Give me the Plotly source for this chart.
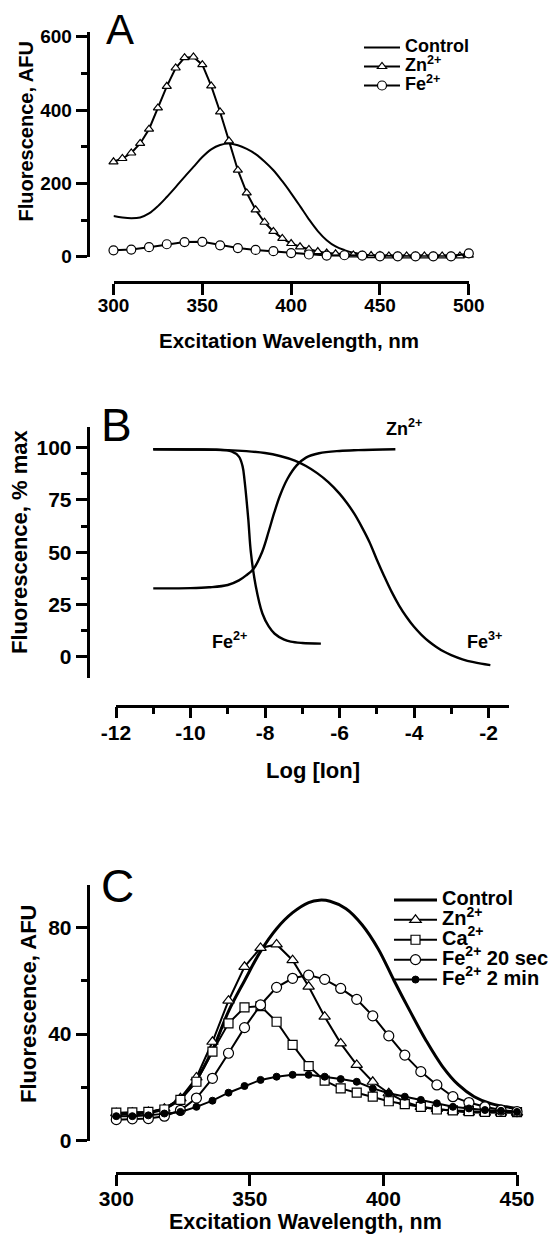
import plotly.graph_objects as go

# page has an 8px body margin: the figure is drawn 8px in from the top-left of the window
OFF = 8
W, H = 556 - OFF, 1238 - OFF
FONT = "Liberation Sans, Arial, sans-serif"

# ---------------- Panel A data ----------------
a_ctrl_x = [300, 305, 310, 315, 320, 325, 330, 335, 340, 345, 350, 355, 360, 365, 370, 375, 380, 385,
            390, 395, 400, 405, 410, 415, 420, 425, 430, 435, 440, 445, 450, 460, 470, 480, 490, 500]
a_ctrl_y = [111, 107, 105, 107, 118, 138, 163, 190, 218, 245, 272, 293, 305, 309, 304, 294, 280, 260,
            236, 206, 173, 138, 102, 70, 45, 28, 18, 11, 7, 4, 2.5, 1.5, 1, 1, 1, 1.5]
a_zn_x = [300, 305, 310, 315, 320, 325, 330, 335, 340, 345, 350, 355, 360, 365, 370, 375, 380, 385, 390, 395,
          400, 405, 410, 415, 420, 425, 430, 435, 440, 445, 450, 455, 460, 465, 470, 475, 480, 485, 490, 495, 500]
a_zn_y = [259, 268, 283, 309, 348, 406, 465, 515, 543, 545, 524, 466, 395, 316, 236, 174, 128, 94, 69, 50,
          36, 27, 20, 14, 10, 8, 6, 5, 4, 3, 3, 2, 2, 2, 2, 2, 2, 2, 2, 2, 4]
a_fe_x = [300, 310, 320, 330, 340, 350, 360, 370, 380, 390, 400, 410, 420, 430, 440, 450, 460, 470, 480, 490, 500]
a_fe_y = [17.5, 19.5, 26, 34, 40, 40.5, 31, 23.5, 18.5, 15, 10, 6, 3, 4, 3, 1, 1, 1, 1, 1, 9]
a_xticks = [300, 350, 400, 450, 500]
a_yticks = [0, 200, 400, 600]

# ---------------- Panel B data ----------------
b_fe2_x = [-11, -10, -9.3, -8.9, -8.7, -8.6, -8.55, -8.45, -8.38, -8.25, -8.07, -7.9, -7.74, -7.5, -7.31, -7.0, -6.5]
b_fe2_y = [99.2, 99.1, 99.0, 98.2, 95.7, 90.9, 84.5, 66, 50, 34, 20.7, 14.5, 11, 8.3, 7.2, 6.6, 6.3]
b_zn_x = [-11, -10, -9.5, -9, -8.7, -8.5, -8.31, -8.08, -7.9, -7.75, -7.6, -7.4, -7.15, -6.9, -6.55, -6.0, -5.5, -4.5]
b_zn_y = [32.7, 32.8, 33.2, 34.3, 36.5, 39.0, 42.0, 50, 60, 69, 77, 85, 91.5, 95.2, 97.3, 98.4, 98.8, 99.2]
b_fe3_x = [-11, -10, -9, -8.5, -8, -7.6, -7.2, -6.9, -6.6, -6.3, -6.0, -5.8, -5.6, -5.4, -5.2, -5.0,
           -4.8, -4.6, -4.4, -4.2, -4.0, -3.8, -3.6, -3.4, -3.2, -3.0, -2.7, -2.4, -2.2, -1.95]
b_fe3_y = [99.2, 99.1, 98.8, 98.3, 97.4, 96.0, 93.8, 91.2, 87.8, 83.5, 78.0, 73.5, 68.3, 62.0, 55.0, 46.5,
           38.5, 31.0, 24.5, 19.0, 14.3, 10.5, 7.3, 4.7, 2.5, 0.8, -1.2, -2.6, -3.3, -4.0]
b_xtick_vals = [-12, -10, -8, -6, -4, -2]
b_xtick_text = ["-12", "-10", "-8", "-6", "-4", "-2"]
b_yticks = [0, 25, 50, 75, 100]

# ---------------- Panel C data ----------------
c_wl = [300, 306, 312, 318, 324, 330, 336, 342, 348, 354, 360, 366, 372, 378, 384, 390, 396,
        402, 408, 414, 420, 426, 432, 438, 444, 450]
c_zn = [10.3, 10.5, 10.8, 12.0, 15.9, 23.7, 37.1, 52.5, 65.2, 72.3, 73.6, 67.7, 57.8, 46.5, 36.5, 28.4, 22.1,
        17.8, 14.6, 12.7, 11.9, 11.1, 10.6, 10.5, 10.5, 10.5]
c_ca = [10.5, 10.6, 10.8, 11.7, 15.3, 22.1, 33.4, 44.0, 50.0, 50.5, 44.6, 35.9, 28.0, 22.5, 19.6, 18.0, 16.5,
        14.8, 13.7, 12.7, 11.7, 11.4, 11.1, 10.8, 10.8, 10.7]
c_fe20 = [7.9, 8.2, 8.3, 9.2, 11.4, 16.0, 23.4, 32.8, 42.4, 50.9, 57.5, 60.9, 62.1, 60.5, 57.1, 53.0, 46.8,
          39.3, 32.1, 25.9, 20.9, 16.5, 14.3, 12.7, 11.5, 10.9]
c_fe2m = [9.2, 9.2, 9.5, 10.2, 10.8, 12.7, 15.0, 18.0, 20.5, 22.8, 24.0, 24.7, 24.7, 24.0, 23.1, 22.1, 19.6,
          17.8, 16.5, 15.3, 14.0, 12.7, 12.1, 11.5, 11.2, 10.8]
c_ctrl_x = [300, 306, 312, 318, 324, 330, 336, 342, 348, 354, 360, 366, 372, 376, 380, 386, 392, 398,
            404, 410, 416, 422, 428, 434, 440, 446, 450]
c_ctrl_y = [10, 10.1, 10.5, 12, 16, 23, 34, 48.5, 60, 71, 79.5, 85.5, 89.3, 90.2, 89.8, 87, 81, 72,
            60, 48.5, 37.5, 28, 21, 16.5, 14, 12.7, 12.1]
c_xticks = [300, 350, 400, 450]
c_yticks = [0, 40, 80]


def fx(px):
    return (px - OFF) / W


def fy(py):
    return 1 - (py - OFF) / H


def lg(text, size):
    return '<span style="font-size:%dpx">%s</span>' % (size, text)


def btext(vals):
    return ["<b>%s</b>" % v for v in vals]


fig = go.Figure()
BLK = "black"

# Panel A traces
fig.add_trace(go.Scatter(x=a_ctrl_x, y=a_ctrl_y, mode="lines", line=dict(color=BLK, width=2, shape="spline"),
                         name=lg("Control", 18), xaxis="x", yaxis="y", legend="legend"))
fig.add_trace(go.Scatter(x=a_zn_x, y=a_zn_y, mode="lines+markers", line=dict(color=BLK, width=2),
                         marker=dict(symbol="triangle-up", size=8, color="white", line=dict(color=BLK, width=1.2)),
                         name=lg("Zn<sup>2+</sup>", 18), xaxis="x", yaxis="y", legend="legend", cliponaxis=False))
fig.add_trace(go.Scatter(x=a_fe_x, y=a_fe_y, mode="lines+markers", line=dict(color=BLK, width=2),
                         marker=dict(symbol="circle", size=9, color="white", line=dict(color=BLK, width=1.2)),
                         name=lg("Fe<sup>2+</sup>", 18), xaxis="x", yaxis="y", legend="legend", cliponaxis=False))

# Panel B traces
for bx, by in [(b_fe2_x, b_fe2_y), (b_zn_x, b_zn_y), (b_fe3_x, b_fe3_y)]:
    fig.add_trace(go.Scatter(x=bx, y=by, mode="lines", line=dict(color=BLK, width=2.4, shape="spline", smoothing=1.0),
                             showlegend=False, xaxis="x2", yaxis="y2"))

# Panel C traces
fig.add_trace(go.Scatter(x=c_ctrl_x, y=c_ctrl_y, mode="lines", line=dict(color=BLK, width=3, shape="spline"),
                         name=lg("Control", 20), xaxis="x3", yaxis="y3", legend="legend2"))
fig.add_trace(go.Scatter(x=c_wl, y=c_zn, mode="lines+markers", line=dict(color=BLK, width=2),
                         marker=dict(symbol="triangle-up", size=10, color="white", line=dict(color=BLK, width=1.2)),
                         name=lg("Zn<sup>2+</sup>", 20), xaxis="x3", yaxis="y3", legend="legend2", cliponaxis=False))
fig.add_trace(go.Scatter(x=c_wl, y=c_ca, mode="lines+markers", line=dict(color=BLK, width=2),
                         marker=dict(symbol="square", size=9, color="white", line=dict(color=BLK, width=1.2)),
                         name=lg("Ca<sup>2+</sup>", 20), xaxis="x3", yaxis="y3", legend="legend2", cliponaxis=False))
fig.add_trace(go.Scatter(x=c_wl, y=c_fe20, mode="lines+markers", line=dict(color=BLK, width=2),
                         marker=dict(symbol="circle", size=10, color="white", line=dict(color=BLK, width=1.2)),
                         name=lg("Fe<sup>2+</sup> 20 sec", 20), xaxis="x3", yaxis="y3", legend="legend2", cliponaxis=False))
fig.add_trace(go.Scatter(x=c_wl, y=c_fe2m, mode="lines+markers", line=dict(color=BLK, width=2),
                         marker=dict(symbol="circle", size=7, color=BLK, line=dict(color=BLK, width=1)),
                         name=lg("Fe<sup>2+</sup> 2 min", 20), xaxis="x3", yaxis="y3", legend="legend2", cliponaxis=False))


def ax(size, **kw):
    d = dict(showline=True, linecolor=BLK, linewidth=2.6, ticks="outside", tickcolor=BLK, tickwidth=2.6,
             ticklen=11, showgrid=False, zeroline=False, anchor="free", fixedrange=True, automargin=False,
             tickfont=dict(family=FONT, size=size, color=BLK, weight="bold"))
    d.update(kw)
    return d


def minor(dt, ln):
    return dict(dtick=dt, ticklen=ln, tickwidth=2.6, tickcolor=BLK, ticks="outside", showgrid=False)


layout = dict(
    width=W, height=H, margin=dict(l=0, r=0, t=0, b=0, autoexpand=False),
    paper_bgcolor="white", plot_bgcolor="white",
    font=dict(family=FONT, color=BLK),
    # Panel A
    xaxis=ax(19, domain=[fx(113.5), fx(468.8)], range=[300, 500], position=fy(282),
             tickmode="array", tickvals=a_xticks, ticktext=btext(a_xticks), ticklabelstandoff=-6),
    yaxis=ax(19, domain=[fy(256.7), fy(31.7)], range=[0, 614], position=fx(87.5),
             tickmode="array", tickvals=a_yticks, ticktext=btext(a_yticks), minor=minor(100, 6)),
    # Panel B
    xaxis2=ax(21, domain=[fx(116), fx(509)], range=[-12, -1.45], position=fy(705.5),
              tickmode="array", tickvals=b_xtick_vals, ticktext=btext(b_xtick_text), minor=minor(1, 7),
              ticklabelstandoff=-4),
    yaxis2=ax(21, domain=[fy(678.3), fy(426.7)], range=[-10.3, 110], position=fx(87.5),
              tickmode="array", tickvals=b_yticks, ticktext=btext(b_yticks), minor=minor(12.5, 6)),
    # Panel C
    xaxis3=ax(21, domain=[fx(116.3), fx(517)], range=[300, 450], position=fy(1173),
              tickmode="array", tickvals=c_xticks, ticktext=btext(c_xticks), ticklabelstandoff=-5),
    yaxis3=ax(21, domain=[fy(1140.7), fy(884.7)], range=[0, 96], position=fx(87.5),
              tickmode="array", tickvals=c_yticks, ticktext=btext(c_yticks), minor=minor(20, 6)),
    legend=dict(x=fx(359), y=fy(33), xanchor="left", yanchor="top", bgcolor="rgba(0,0,0,0)",
                borderwidth=0, tracegroupgap=0, itemwidth=36,
                font=dict(family=FONT, size=12, color=BLK, weight="bold")),
    legend2=dict(x=fx(389), y=fy(885), xanchor="left", yanchor="top", bgcolor="rgba(0,0,0,0)",
                 borderwidth=0, tracegroupgap=0, itemwidth=43,
                 font=dict(family=FONT, size=13, color=BLK, weight="bold")),
)
fig.update_layout(**layout)


def bold(s):
    return dict(family=FONT, size=s, color=BLK, weight="bold")


annots = [
    # panel letters
    dict(text="A", x=fx(120), y=fy(29), font=dict(family=FONT, size=42, color=BLK)),
    dict(text="B", x=fx(116), y=fy(425), font=dict(family=FONT, size=46, color=BLK)),
    dict(text="C", x=fx(117), y=fy(886), font=dict(family=FONT, size=46, color=BLK)),
    # axis titles
    dict(text="Fluorescence, AFU", x=fx(25.5), y=fy(132), textangle=-90, font=bold(20)),
    dict(text="Excitation Wavelength, nm", x=fx(289), y=fy(340), font=bold(20.5)),
    dict(text="Fluorescence, % max", x=fx(20), y=fy(542), textangle=-90, font=bold(22)),
    dict(text="Log [Ion]", x=fx(312.5), y=fy(770), font=bold(22)),
    dict(text="Fluorescence, AFU", x=fx(28), y=fy(1004), textangle=-90, font=bold(22)),
    dict(text="Excitation Wavelength, nm", x=fx(305), y=fy(1222), font=bold(21.5)),
]
for a in annots:
    a.update(xref="paper", yref="paper", showarrow=False, xanchor="center", yanchor="middle")
    fig.add_annotation(**a)

# curve labels in panel B (data coordinates)
for txt, xv, yv in [("Zn<sup>2+</sup>", -4.27, 109.4), ("Fe<sup>2+</sup>", -8.94, 8), ("Fe<sup>3+</sup>", -2.1, 8)]:
    fig.add_annotation(text=txt, x=xv, y=yv, xref="x2", yref="y2", showarrow=False,
                       xanchor="center", yanchor="middle", font=bold(18))

fig.write_html("out.html")
